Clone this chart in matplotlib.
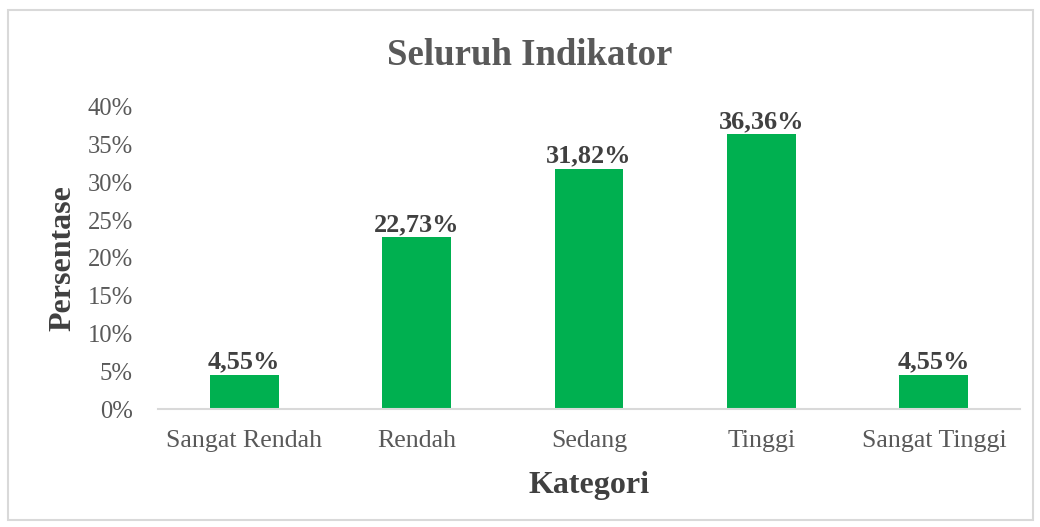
import matplotlib
matplotlib.use("Agg")
import matplotlib.pyplot as plt
from matplotlib.ticker import FuncFormatter, MultipleLocator
from matplotlib.patches import Rectangle

# data
categories = ["Sangat Rendah", "Rendah", "Sedang", "Tinggi", "Sangat Tinggi"]
persen = [4.55, 22.73, 31.82, 36.36, 4.55]

title = "Seluruh Indikator"
xlabel = "Kategori"
ylabel = "Persentase"

plt.rcParams['font.family'] = ['Liberation Serif', 'DejaVu Serif']

fig = plt.figure(figsize=(10.4, 5.27), dpi=100)
ax = fig.add_axes([0.1519, 0.2239, 0.9808 - 0.1519, 0.797 - 0.2239])

x = range(len(categories))
bars = ax.bar(x, persen, width=0.4, color="#00B050", zorder=2)

#labels above each bar, with comma decimals
for b, v in zip(bars, persen):
    txt = ("%.2f" % v).replace(".", ",") + "%"
    ax.annotate(txt, (b.get_x() + b.get_width() / 2, v), xytext=(0, 1),
                textcoords="offset points", ha="center", va="bottom",
                fontsize=18.9, fontweight="bold", color="#404040")

ax.set_xlim(-0.5, len(categories) - 0.5)
ax.set_ylim(0, 40)
ax.yaxis.set_major_locator(MultipleLocator(5))
ax.yaxis.set_major_formatter(FuncFormatter(lambda v, p: "%d%%" % v))
ax.set_xticks(list(x))
ax.set_xticklabels(categories)

ax.tick_params(axis="y", length=0, pad=18, labelsize=17.7, labelcolor="#595959")
ax.tick_params(axis="x", length=0, pad=15, labelsize=18.6, labelcolor="#595959")

for s in ["top", "right", "left"]:
    ax.spines[s].set_visible(False)
ax.spines["bottom"].set_color("#D9D9D9")
ax.spines["bottom"].set_linewidth(1.5)

fig.text(530 / 1040, 1 - 56 / 527, title, ha="center", va="center",
         fontsize=26.5, fontweight="bold", color="#595959")
fig.text(589 / 1040, 1 - 486 / 527, xlabel, ha="center", va="center",
         fontsize=23, fontweight="bold", color="#404040")
fig.text(63 / 1040, 1 - 258 / 527, ylabel, ha="center", va="center",
         rotation=90, fontsize=23, fontweight="bold", color="#404040")

# light grey chart border
fig.patches.append(Rectangle((8 / 1040, 7 / 527), 1025 / 1040, 510 / 527,
                             transform=fig.transFigure, fill=False,
                             edgecolor="#D9D9D9", linewidth=1.5))

fig.savefig("out.png", dpi=100)
